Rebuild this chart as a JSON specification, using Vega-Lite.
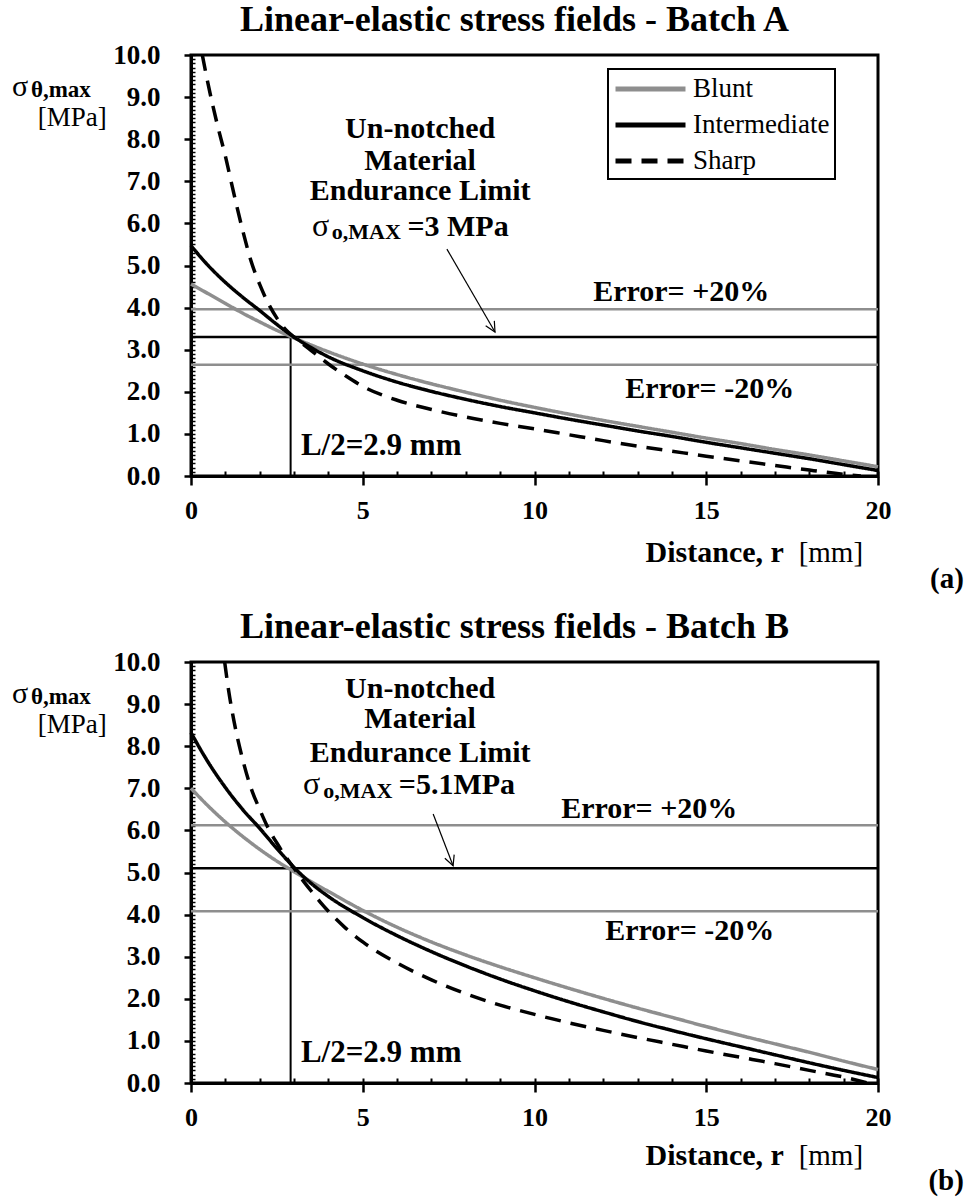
{
  "$schema": "https://vega.github.io/schema/vega-lite/v6.json",
  "padding": {"left": 10, "top": 0, "right": 2, "bottom": 0},
  "spacing": 11,
  "config": {
    "font": "Liberation Serif",
    "view": {"stroke": "black", "strokeWidth": 3},
    "axis": {"grid": false, "tickColor": "black", "domainColor": "black", "labelColor": "black"},
    "text": {"font": "Liberation Serif", "color": "black"}
  },
  "datasets": {
    "curvesA": [
      {"series": "Blunt", "r": 0, "s": 4.56}, {"series": "Blunt", "r": 0.5, "s": 4.33}, {"series": "Blunt", "r": 1, "s": 4.1}, {"series": "Blunt", "r": 1.5, "s": 3.87}, {"series": "Blunt", "r": 2, "s": 3.66}, {"series": "Blunt", "r": 2.5, "s": 3.46}, {"series": "Blunt", "r": 3, "s": 3.28}, {"series": "Blunt", "r": 3.5, "s": 3.11}, {"series": "Blunt", "r": 4, "s": 2.95}, {"series": "Blunt", "r": 5, "s": 2.66}, {"series": "Blunt", "r": 6, "s": 2.41}, {"series": "Blunt", "r": 7, "s": 2.19}, {"series": "Blunt", "r": 8, "s": 1.99}, {"series": "Blunt", "r": 9, "s": 1.8}, {"series": "Blunt", "r": 10, "s": 1.63}, {"series": "Blunt", "r": 11, "s": 1.47}, {"series": "Blunt", "r": 12, "s": 1.32}, {"series": "Blunt", "r": 13, "s": 1.18}, {"series": "Blunt", "r": 14, "s": 1.04}, {"series": "Blunt", "r": 15, "s": 0.9}, {"series": "Blunt", "r": 16, "s": 0.77}, {"series": "Blunt", "r": 17, "s": 0.63}, {"series": "Blunt", "r": 18, "s": 0.5}, {"series": "Blunt", "r": 19, "s": 0.36}, {"series": "Blunt", "r": 20, "s": 0.22},
      {"series": "Intermediate", "r": 0, "s": 5.47}, {"series": "Intermediate", "r": 0.5, "s": 5.0}, {"series": "Intermediate", "r": 1, "s": 4.6}, {"series": "Intermediate", "r": 1.5, "s": 4.25}, {"series": "Intermediate", "r": 2, "s": 3.93}, {"series": "Intermediate", "r": 2.5, "s": 3.6}, {"series": "Intermediate", "r": 3, "s": 3.3}, {"series": "Intermediate", "r": 3.5, "s": 3.05}, {"series": "Intermediate", "r": 4, "s": 2.83}, {"series": "Intermediate", "r": 5, "s": 2.5}, {"series": "Intermediate", "r": 6, "s": 2.23}, {"series": "Intermediate", "r": 7, "s": 2.01}, {"series": "Intermediate", "r": 8, "s": 1.82}, {"series": "Intermediate", "r": 9, "s": 1.65}, {"series": "Intermediate", "r": 10, "s": 1.5}, {"series": "Intermediate", "r": 11, "s": 1.35}, {"series": "Intermediate", "r": 12, "s": 1.21}, {"series": "Intermediate", "r": 13, "s": 1.07}, {"series": "Intermediate", "r": 14, "s": 0.94}, {"series": "Intermediate", "r": 15, "s": 0.8}, {"series": "Intermediate", "r": 16, "s": 0.67}, {"series": "Intermediate", "r": 17, "s": 0.54}, {"series": "Intermediate", "r": 18, "s": 0.41}, {"series": "Intermediate", "r": 19, "s": 0.27}, {"series": "Intermediate", "r": 20, "s": 0.13},
      {"series": "Sharp", "r": 0.33, "s": 10}, {"series": "Sharp", "r": 0.5, "s": 9.3}, {"series": "Sharp", "r": 0.75, "s": 8.4}, {"series": "Sharp", "r": 1, "s": 7.6}, {"series": "Sharp", "r": 1.25, "s": 6.7}, {"series": "Sharp", "r": 1.5, "s": 5.85}, {"series": "Sharp", "r": 1.75, "s": 5.1}, {"series": "Sharp", "r": 2, "s": 4.55}, {"series": "Sharp", "r": 2.25, "s": 4.1}, {"series": "Sharp", "r": 2.5, "s": 3.75}, {"series": "Sharp", "r": 2.75, "s": 3.48}, {"series": "Sharp", "r": 3, "s": 3.3}, {"series": "Sharp", "r": 3.5, "s": 2.98}, {"series": "Sharp", "r": 4, "s": 2.66}, {"series": "Sharp", "r": 4.5, "s": 2.38}, {"series": "Sharp", "r": 5, "s": 2.13}, {"series": "Sharp", "r": 6, "s": 1.8}, {"series": "Sharp", "r": 7, "s": 1.58}, {"series": "Sharp", "r": 8, "s": 1.4}, {"series": "Sharp", "r": 9, "s": 1.25}, {"series": "Sharp", "r": 10, "s": 1.12}, {"series": "Sharp", "r": 11, "s": 0.98}, {"series": "Sharp", "r": 12, "s": 0.84}, {"series": "Sharp", "r": 13, "s": 0.71}, {"series": "Sharp", "r": 14, "s": 0.59}, {"series": "Sharp", "r": 15, "s": 0.47}, {"series": "Sharp", "r": 16, "s": 0.36}, {"series": "Sharp", "r": 17, "s": 0.25}, {"series": "Sharp", "r": 18, "s": 0.14}, {"series": "Sharp", "r": 19, "s": 0.04}, {"series": "Sharp", "r": 19.5, "s": 0}
    ],
    "curvesB": [
      {"series": "Blunt", "r": 0, "s": 7.0}, {"series": "Blunt", "r": 0.5, "s": 6.58}, {"series": "Blunt", "r": 1, "s": 6.2}, {"series": "Blunt", "r": 1.5, "s": 5.86}, {"series": "Blunt", "r": 2, "s": 5.55}, {"series": "Blunt", "r": 2.5, "s": 5.27}, {"series": "Blunt", "r": 3, "s": 5.02}, {"series": "Blunt", "r": 3.5, "s": 4.78}, {"series": "Blunt", "r": 4, "s": 4.55}, {"series": "Blunt", "r": 5, "s": 4.1}, {"series": "Blunt", "r": 6, "s": 3.7}, {"series": "Blunt", "r": 7, "s": 3.35}, {"series": "Blunt", "r": 8, "s": 3.04}, {"series": "Blunt", "r": 9, "s": 2.76}, {"series": "Blunt", "r": 10, "s": 2.5}, {"series": "Blunt", "r": 11, "s": 2.25}, {"series": "Blunt", "r": 12, "s": 2.01}, {"series": "Blunt", "r": 13, "s": 1.78}, {"series": "Blunt", "r": 14, "s": 1.56}, {"series": "Blunt", "r": 15, "s": 1.34}, {"series": "Blunt", "r": 16, "s": 1.13}, {"series": "Blunt", "r": 17, "s": 0.93}, {"series": "Blunt", "r": 18, "s": 0.73}, {"series": "Blunt", "r": 19, "s": 0.52}, {"series": "Blunt", "r": 20, "s": 0.32},
      {"series": "Intermediate", "r": 0, "s": 8.32}, {"series": "Intermediate", "r": 0.5, "s": 7.62}, {"series": "Intermediate", "r": 1, "s": 7.02}, {"series": "Intermediate", "r": 1.5, "s": 6.5}, {"series": "Intermediate", "r": 2, "s": 6.05}, {"series": "Intermediate", "r": 2.5, "s": 5.57}, {"series": "Intermediate", "r": 3, "s": 5.12}, {"series": "Intermediate", "r": 3.5, "s": 4.74}, {"series": "Intermediate", "r": 4, "s": 4.43}, {"series": "Intermediate", "r": 5, "s": 3.93}, {"series": "Intermediate", "r": 6, "s": 3.5}, {"series": "Intermediate", "r": 7, "s": 3.12}, {"series": "Intermediate", "r": 8, "s": 2.78}, {"series": "Intermediate", "r": 9, "s": 2.47}, {"series": "Intermediate", "r": 10, "s": 2.19}, {"series": "Intermediate", "r": 11, "s": 1.93}, {"series": "Intermediate", "r": 12, "s": 1.69}, {"series": "Intermediate", "r": 13, "s": 1.46}, {"series": "Intermediate", "r": 14, "s": 1.25}, {"series": "Intermediate", "r": 15, "s": 1.05}, {"series": "Intermediate", "r": 16, "s": 0.86}, {"series": "Intermediate", "r": 17, "s": 0.67}, {"series": "Intermediate", "r": 18, "s": 0.48}, {"series": "Intermediate", "r": 19, "s": 0.3}, {"series": "Intermediate", "r": 20, "s": 0.13},
      {"series": "Sharp", "r": 0.98, "s": 10}, {"series": "Sharp", "r": 1.1, "s": 9.3}, {"series": "Sharp", "r": 1.25, "s": 8.6}, {"series": "Sharp", "r": 1.5, "s": 7.7}, {"series": "Sharp", "r": 1.75, "s": 7.0}, {"series": "Sharp", "r": 2, "s": 6.5}, {"series": "Sharp", "r": 2.25, "s": 6.05}, {"series": "Sharp", "r": 2.5, "s": 5.7}, {"series": "Sharp", "r": 2.75, "s": 5.38}, {"series": "Sharp", "r": 3, "s": 5.1}, {"series": "Sharp", "r": 3.25, "s": 4.82}, {"series": "Sharp", "r": 3.5, "s": 4.56}, {"series": "Sharp", "r": 3.75, "s": 4.31}, {"series": "Sharp", "r": 4, "s": 4.08}, {"series": "Sharp", "r": 4.5, "s": 3.68}, {"series": "Sharp", "r": 5, "s": 3.35}, {"series": "Sharp", "r": 6, "s": 2.85}, {"series": "Sharp", "r": 7, "s": 2.45}, {"series": "Sharp", "r": 8, "s": 2.12}, {"series": "Sharp", "r": 9, "s": 1.85}, {"series": "Sharp", "r": 10, "s": 1.63}, {"series": "Sharp", "r": 11, "s": 1.43}, {"series": "Sharp", "r": 12, "s": 1.25}, {"series": "Sharp", "r": 13, "s": 1.08}, {"series": "Sharp", "r": 14, "s": 0.92}, {"series": "Sharp", "r": 15, "s": 0.76}, {"series": "Sharp", "r": 16, "s": 0.61}, {"series": "Sharp", "r": 17, "s": 0.46}, {"series": "Sharp", "r": 18, "s": 0.3}, {"series": "Sharp", "r": 19, "s": 0.14}, {"series": "Sharp", "r": 19.7, "s": 0}
    ]
  },
  "vconcat": [
    {
      "width": 687, "height": 421,
      "title": {"text": "Linear-elastic stress fields - Batch A", "font": "Liberation Serif", "fontSize": 36, "fontWeight": "bold", "color": "black", "anchor": "middle", "frame": "group", "dx": -20, "offset": 2},
      "resolve": {"axis": {"x": "independent", "y": "independent"}},
      "layer": [
        {
          "data": {"values": [{"r": 2.9, "s": 0, "s2": 3.3}]},
          "mark": {"type": "rule", "color": "black", "strokeWidth": 2},
          "encoding": {
            "x": {"field": "r", "type": "quantitative", "scale": {"domain": [0, 20], "nice": false, "zero": false},
                  "axis": {"orient": "bottom", "values": [0,1,2,3,4,5,6,7,8,9,10,11,12,13,14,15,16,17,18,19,20], "tickSize": -5, "tickWidth": 2, "labels": false, "domain": false, "title": null}},
            "y": {"field": "s", "type": "quantitative", "scale": {"domain": [0, 10], "nice": false},
                  "axis": {"orient": "left", "values": [0,0.1,0.2,0.3,0.4,0.5,0.6,0.7,0.8,0.9,1,1.1,1.2,1.3,1.4,1.5,1.6,1.7,1.8,1.9,2,2.1,2.2,2.3,2.4,2.5,2.6,2.7,2.8,2.9,3,3.1,3.2,3.3,3.4,3.5,3.6,3.7,3.8,3.9,4,4.1,4.2,4.3,4.4,4.5,4.6,4.7,4.8,4.9,5,5.1,5.2,5.3,5.4,5.5,5.6,5.7,5.8,5.9,6,6.1,6.2,6.3,6.4,6.5,6.6,6.7,6.8,6.9,7,7.1,7.2,7.3,7.4,7.5,7.6,7.7,7.8,7.9,8,8.1,8.2,8.3,8.4,8.5,8.6,8.7,8.8,8.9,9,9.1,9.2,9.3,9.4,9.5,9.6,9.7,9.8,9.9,10], "tickSize": -4, "tickWidth": 1.5, "labels": false, "domain": false, "title": null}},
            "y2": {"field": "s2"}
          }
        },
        {
          "data": {"values": [{"kind": "Error +20%", "s": 3.96}, {"kind": "Endurance limit", "s": 3.3}, {"kind": "Error -20%", "s": 2.64}]},
          "mark": {"type": "rule", "strokeWidth": 2.5},
          "encoding": {
            "y": {"field": "s", "type": "quantitative", "axis": null},
            "color": {"condition": {"test": "datum.kind === 'Endurance limit'", "value": "black"}, "value": "#8e8e8e"}
          }
        },
        {
          "data": {"name": "curvesA"},
          "mark": {"type": "line", "strokeWidth": 3.5, "interpolate": "monotone"},
          "encoding": {
            "x": {"field": "r", "type": "quantitative",
                  "axis": {"orient": "bottom", "values": [0, 5, 10, 15, 20], "tickSize": 9, "tickWidth": 2.5, "domainWidth": 3, "labelFont": "Liberation Serif", "labelFontSize": 26, "labelFontWeight": "bold", "labelPadding": 12, "labelFlush": false, "title": null}},
            "y": {"field": "s", "type": "quantitative",
                  "axis": {"orient": "left", "values": [0,1,2,3,4,5,6,7,8,9,10], "format": ".1f", "tickSize": 7, "tickWidth": 2.5, "domainWidth": 3, "labelFont": "Liberation Serif", "labelFontSize": 27, "labelFontWeight": "bold", "labelPadding": 24, "title": null}},
            "color": {"field": "series", "type": "nominal",
                      "scale": {"domain": ["Blunt", "Intermediate", "Sharp"], "range": ["#8e8e8e", "#000000", "#000000"]},
                      "legend": {"orient": "none", "legendX": 417, "legendY": 14, "title": null, "padding": 5, "strokeColor": "black", "fillColor": "white",
                                 "labelFont": "Liberation Serif", "labelFontSize": 27, "labelColor": "black", "labelOffset": 50, "rowPadding": 8,
                                 "symbolType": "M-1,0H4.6", "symbolSize": 625, "symbolStrokeWidth": 5,
                                 "encode": {"legend": {"update": {"strokeWidth": {"value": 2}}}}}},
            "strokeDash": {"field": "series", "type": "nominal", "scale": {"domain": ["Blunt", "Intermediate", "Sharp"], "range": [[1, 0], [1, 0], [16, 10]]}, "legend": null}
          }
        },
        {
          "data": {"values": [{"r": 7.45, "s": 5.39}, {"r": 8.85, "s": 3.42}]},
          "mark": {"type": "line", "color": "black", "strokeWidth": 1.2},
          "encoding": {"x": {"field": "r", "type": "quantitative", "axis": null}, "y": {"field": "s", "type": "quantitative", "axis": null}}
        },
        {
          "data": {"values": [{"r": 8.85, "s": 3.42}]},
          "mark": {"type": "point", "shape": "M-0.5,-1L0,0L0.5,-1", "size": 400, "angle": 330, "filled": false, "stroke": "black", "strokeWidth": 1.2, "opacity": 1},
          "encoding": {"x": {"field": "r", "type": "quantitative", "axis": null}, "y": {"field": "s", "type": "quantitative", "axis": null}}
        },
        {
          "data": {"values": [{"r": 6.67, "s": 8.24, "t": "Un-notched"}, {"r": 6.67, "s": 7.49, "t": "Material"}, {"r": 6.67, "s": 6.78, "t": "Endurance Limit"}]},
          "mark": {"type": "text", "fontSize": 30, "fontWeight": "bold", "align": "center", "baseline": "middle"},
          "encoding": {"x": {"field": "r", "type": "quantitative", "axis": null}, "y": {"field": "s", "type": "quantitative", "axis": null}, "text": {"field": "t"}}
        },
        {
          "data": {"values": [{"r": 3.52, "s": 5.71, "t": "σ"}]},
          "mark": {"type": "text", "fontSize": 32, "align": "left", "baseline": "alphabetic"},
          "encoding": {"x": {"field": "r", "type": "quantitative", "axis": null}, "y": {"field": "s", "type": "quantitative", "axis": null}, "text": {"field": "t"}}
        },
        {
          "data": {"values": [{"r": 4.1, "s": 5.63, "t": "o,MAX"}]},
          "mark": {"type": "text", "fontSize": 22, "fontWeight": "bold", "align": "left", "baseline": "alphabetic"},
          "encoding": {"x": {"field": "r", "type": "quantitative", "axis": null}, "y": {"field": "s", "type": "quantitative", "axis": null}, "text": {"field": "t"}}
        },
        {
          "data": {"values": [{"r": 6.3, "s": 5.71, "t": "=3 MPa"}]},
          "mark": {"type": "text", "fontSize": 30, "fontWeight": "bold", "align": "left", "baseline": "alphabetic"},
          "encoding": {"x": {"field": "r", "type": "quantitative", "axis": null}, "y": {"field": "s", "type": "quantitative", "axis": null}, "text": {"field": "t"}}
        },
        {
          "data": {"values": [{"r": 14.27, "s": 4.37, "t": "Error= +20%"}, {"r": 15.1, "s": 2.07, "t": "Error= -20%"}]},
          "mark": {"type": "text", "fontSize": 30, "fontWeight": "bold", "align": "center", "baseline": "middle"},
          "encoding": {"x": {"field": "r", "type": "quantitative", "axis": null}, "y": {"field": "s", "type": "quantitative", "axis": null}, "text": {"field": "t"}}
        },
        {
          "data": {"values": [{"r": 3.2, "s": 0.72, "t": "L/2=2.9 mm"}]},
          "mark": {"type": "text", "fontSize": 31, "fontWeight": "bold", "align": "left", "baseline": "middle"},
          "encoding": {"x": {"field": "r", "type": "quantitative", "axis": null}, "y": {"field": "s", "type": "quantitative", "axis": null}, "text": {"field": "t"}}
        },
        {
          "data": {"values": [{"r": -5.21, "s": 9.03, "t": "σ"}]},
          "mark": {"type": "text", "fontSize": 30, "align": "left", "baseline": "alphabetic"},
          "encoding": {"x": {"field": "r", "type": "quantitative", "axis": null}, "y": {"field": "s", "type": "quantitative", "axis": null}, "text": {"field": "t"}}
        },
        {
          "data": {"values": [{"r": -3.46, "s": 8.31, "t": "[MPa]"}]},
          "mark": {"type": "text", "fontSize": 27, "align": "center", "baseline": "alphabetic"},
          "encoding": {"x": {"field": "r", "type": "quantitative", "axis": null}, "y": {"field": "s", "type": "quantitative", "axis": null}, "text": {"field": "t"}}
        },
        {
          "data": {"values": [{"r": -4.66, "s": 9.0, "t": "θ,max"}]},
          "mark": {"type": "text", "fontSize": 23, "fontWeight": "bold", "align": "left", "baseline": "alphabetic"},
          "encoding": {"x": {"field": "r", "type": "quantitative", "axis": null}, "y": {"field": "s", "type": "quantitative", "axis": null}, "text": {"field": "t"}}
        },
        {
          "data": {"values": [{"r": 17.26, "s": -2.05, "t": "Distance, r"}]},
          "mark": {"type": "text", "fontSize": 30, "fontWeight": "bold", "align": "right", "baseline": "alphabetic"},
          "encoding": {"x": {"field": "r", "type": "quantitative", "axis": null}, "y": {"field": "s", "type": "quantitative", "axis": null}, "text": {"field": "t"}}
        },
        {
          "data": {"values": [{"r": 17.69, "s": -2.05, "t": "[mm]"}]},
          "mark": {"type": "text", "fontSize": 29, "align": "left", "baseline": "alphabetic"},
          "encoding": {"x": {"field": "r", "type": "quantitative", "axis": null}, "y": {"field": "s", "type": "quantitative", "axis": null}, "text": {"field": "t"}}
        },
        {
          "data": {"values": [{"r": 22.5, "s": -2.65, "t": "(a)"}]},
          "mark": {"type": "text", "fontSize": 29, "fontWeight": "bold", "align": "right", "baseline": "alphabetic"},
          "encoding": {"x": {"field": "r", "type": "quantitative", "axis": null}, "y": {"field": "s", "type": "quantitative", "axis": null}, "text": {"field": "t"}}
        }
      ]
    },
    {
      "width": 687, "height": 421,
      "title": {"text": "Linear-elastic stress fields - Batch B", "font": "Liberation Serif", "fontSize": 36, "fontWeight": "bold", "color": "black", "anchor": "middle", "frame": "group", "dx": -20, "offset": 2},
      "resolve": {"axis": {"x": "independent", "y": "independent"}},
      "layer": [
        {
          "data": {"values": [{"r": 2.9, "s": 0, "s2": 5.1}]},
          "mark": {"type": "rule", "color": "black", "strokeWidth": 2},
          "encoding": {
            "x": {"field": "r", "type": "quantitative", "scale": {"domain": [0, 20], "nice": false, "zero": false},
                  "axis": {"orient": "bottom", "values": [0,1,2,3,4,5,6,7,8,9,10,11,12,13,14,15,16,17,18,19,20], "tickSize": -5, "tickWidth": 2, "labels": false, "domain": false, "title": null}},
            "y": {"field": "s", "type": "quantitative", "scale": {"domain": [0, 10], "nice": false},
                  "axis": {"orient": "left", "values": [0,0.1,0.2,0.3,0.4,0.5,0.6,0.7,0.8,0.9,1,1.1,1.2,1.3,1.4,1.5,1.6,1.7,1.8,1.9,2,2.1,2.2,2.3,2.4,2.5,2.6,2.7,2.8,2.9,3,3.1,3.2,3.3,3.4,3.5,3.6,3.7,3.8,3.9,4,4.1,4.2,4.3,4.4,4.5,4.6,4.7,4.8,4.9,5,5.1,5.2,5.3,5.4,5.5,5.6,5.7,5.8,5.9,6,6.1,6.2,6.3,6.4,6.5,6.6,6.7,6.8,6.9,7,7.1,7.2,7.3,7.4,7.5,7.6,7.7,7.8,7.9,8,8.1,8.2,8.3,8.4,8.5,8.6,8.7,8.8,8.9,9,9.1,9.2,9.3,9.4,9.5,9.6,9.7,9.8,9.9,10], "tickSize": -4, "tickWidth": 1.5, "labels": false, "domain": false, "title": null}},
            "y2": {"field": "s2"}
          }
        },
        {
          "data": {"values": [{"kind": "Error +20%", "s": 6.12}, {"kind": "Endurance limit", "s": 5.1}, {"kind": "Error -20%", "s": 4.08}]},
          "mark": {"type": "rule", "strokeWidth": 2.5},
          "encoding": {
            "y": {"field": "s", "type": "quantitative", "axis": null},
            "color": {"condition": {"test": "datum.kind === 'Endurance limit'", "value": "black"}, "value": "#8e8e8e"}
          }
        },
        {
          "data": {"name": "curvesB"},
          "mark": {"type": "line", "strokeWidth": 3.5, "interpolate": "monotone"},
          "encoding": {
            "x": {"field": "r", "type": "quantitative",
                  "axis": {"orient": "bottom", "values": [0, 5, 10, 15, 20], "tickSize": 9, "tickWidth": 2.5, "domainWidth": 3, "labelFont": "Liberation Serif", "labelFontSize": 26, "labelFontWeight": "bold", "labelPadding": 12, "labelFlush": false, "title": null}},
            "y": {"field": "s", "type": "quantitative",
                  "axis": {"orient": "left", "values": [0,1,2,3,4,5,6,7,8,9,10], "format": ".1f", "tickSize": 7, "tickWidth": 2.5, "domainWidth": 3, "labelFont": "Liberation Serif", "labelFontSize": 27, "labelFontWeight": "bold", "labelPadding": 24, "title": null}},
            "color": {"field": "series", "type": "nominal",
                      "scale": {"domain": ["Blunt", "Intermediate", "Sharp"], "range": ["#8e8e8e", "#000000", "#000000"]},
                      "legend": {"orient": "none", "legendX": 417, "legendY": 14, "title": null, "padding": 5, "strokeColor": "black", "fillColor": "white",
                                 "labelFont": "Liberation Serif", "labelFontSize": 27, "labelColor": "black", "labelOffset": 50, "rowPadding": 8,
                                 "symbolType": "M-1,0H4.6", "symbolSize": 625, "symbolStrokeWidth": 5,
                                 "encode": {"legend": {"update": {"strokeWidth": {"value": 2}}}}}},
            "strokeDash": {"field": "series", "type": "nominal", "scale": {"domain": ["Blunt", "Intermediate", "Sharp"], "range": [[1, 0], [1, 0], [16, 10]]}, "legend": null}
          }
        },
        {
          "data": {"values": [{"r": 7.05, "s": 6.39}, {"r": 7.63, "s": 5.16}]},
          "mark": {"type": "line", "color": "black", "strokeWidth": 1.2},
          "encoding": {"x": {"field": "r", "type": "quantitative", "axis": null}, "y": {"field": "s", "type": "quantitative", "axis": null}}
        },
        {
          "data": {"values": [{"r": 7.63, "s": 5.16}]},
          "mark": {"type": "point", "shape": "M-0.5,-1L0,0L0.5,-1", "size": 400, "angle": 339, "filled": false, "stroke": "black", "strokeWidth": 1.2, "opacity": 1},
          "encoding": {"x": {"field": "r", "type": "quantitative", "axis": null}, "y": {"field": "s", "type": "quantitative", "axis": null}}
        },
        {
          "data": {"values": [{"r": 6.67, "s": 9.36, "t": "Un-notched"}, {"r": 6.67, "s": 8.65, "t": "Material"}, {"r": 6.67, "s": 7.84, "t": "Endurance Limit"}]},
          "mark": {"type": "text", "fontSize": 30, "fontWeight": "bold", "align": "center", "baseline": "middle"},
          "encoding": {"x": {"field": "r", "type": "quantitative", "axis": null}, "y": {"field": "s", "type": "quantitative", "axis": null}, "text": {"field": "t"}}
        },
        {
          "data": {"values": [{"r": 3.26, "s": 6.86, "t": "σ"}]},
          "mark": {"type": "text", "fontSize": 32, "align": "left", "baseline": "alphabetic"},
          "encoding": {"x": {"field": "r", "type": "quantitative", "axis": null}, "y": {"field": "s", "type": "quantitative", "axis": null}, "text": {"field": "t"}}
        },
        {
          "data": {"values": [{"r": 3.85, "s": 6.78, "t": "o,MAX"}]},
          "mark": {"type": "text", "fontSize": 22, "fontWeight": "bold", "align": "left", "baseline": "alphabetic"},
          "encoding": {"x": {"field": "r", "type": "quantitative", "axis": null}, "y": {"field": "s", "type": "quantitative", "axis": null}, "text": {"field": "t"}}
        },
        {
          "data": {"values": [{"r": 6.05, "s": 6.86, "t": "=5.1MPa"}]},
          "mark": {"type": "text", "fontSize": 30, "fontWeight": "bold", "align": "left", "baseline": "alphabetic"},
          "encoding": {"x": {"field": "r", "type": "quantitative", "axis": null}, "y": {"field": "s", "type": "quantitative", "axis": null}, "text": {"field": "t"}}
        },
        {
          "data": {"values": [{"r": 13.34, "s": 6.5, "t": "Error= +20%"}, {"r": 14.52, "s": 3.61, "t": "Error= -20%"}]},
          "mark": {"type": "text", "fontSize": 30, "fontWeight": "bold", "align": "center", "baseline": "middle"},
          "encoding": {"x": {"field": "r", "type": "quantitative", "axis": null}, "y": {"field": "s", "type": "quantitative", "axis": null}, "text": {"field": "t"}}
        },
        {
          "data": {"values": [{"r": 3.2, "s": 0.72, "t": "L/2=2.9 mm"}]},
          "mark": {"type": "text", "fontSize": 31, "fontWeight": "bold", "align": "left", "baseline": "middle"},
          "encoding": {"x": {"field": "r", "type": "quantitative", "axis": null}, "y": {"field": "s", "type": "quantitative", "axis": null}, "text": {"field": "t"}}
        },
        {
          "data": {"values": [{"r": -5.21, "s": 9.03, "t": "σ"}]},
          "mark": {"type": "text", "fontSize": 30, "align": "left", "baseline": "alphabetic"},
          "encoding": {"x": {"field": "r", "type": "quantitative", "axis": null}, "y": {"field": "s", "type": "quantitative", "axis": null}, "text": {"field": "t"}}
        },
        {
          "data": {"values": [{"r": -3.46, "s": 8.31, "t": "[MPa]"}]},
          "mark": {"type": "text", "fontSize": 27, "align": "center", "baseline": "alphabetic"},
          "encoding": {"x": {"field": "r", "type": "quantitative", "axis": null}, "y": {"field": "s", "type": "quantitative", "axis": null}, "text": {"field": "t"}}
        },
        {
          "data": {"values": [{"r": -4.66, "s": 9.0, "t": "θ,max"}]},
          "mark": {"type": "text", "fontSize": 23, "fontWeight": "bold", "align": "left", "baseline": "alphabetic"},
          "encoding": {"x": {"field": "r", "type": "quantitative", "axis": null}, "y": {"field": "s", "type": "quantitative", "axis": null}, "text": {"field": "t"}}
        },
        {
          "data": {"values": [{"r": 17.26, "s": -1.95, "t": "Distance, r"}]},
          "mark": {"type": "text", "fontSize": 30, "fontWeight": "bold", "align": "right", "baseline": "alphabetic"},
          "encoding": {"x": {"field": "r", "type": "quantitative", "axis": null}, "y": {"field": "s", "type": "quantitative", "axis": null}, "text": {"field": "t"}}
        },
        {
          "data": {"values": [{"r": 17.69, "s": -1.95, "t": "[mm]"}]},
          "mark": {"type": "text", "fontSize": 29, "align": "left", "baseline": "alphabetic"},
          "encoding": {"x": {"field": "r", "type": "quantitative", "axis": null}, "y": {"field": "s", "type": "quantitative", "axis": null}, "text": {"field": "t"}}
        },
        {
          "data": {"values": [{"r": 22.5, "s": -2.55, "t": "(b)"}]},
          "mark": {"type": "text", "fontSize": 29, "fontWeight": "bold", "align": "right", "baseline": "alphabetic"},
          "encoding": {"x": {"field": "r", "type": "quantitative", "axis": null}, "y": {"field": "s", "type": "quantitative", "axis": null}, "text": {"field": "t"}}
        }
      ]
    }
  ]
}
